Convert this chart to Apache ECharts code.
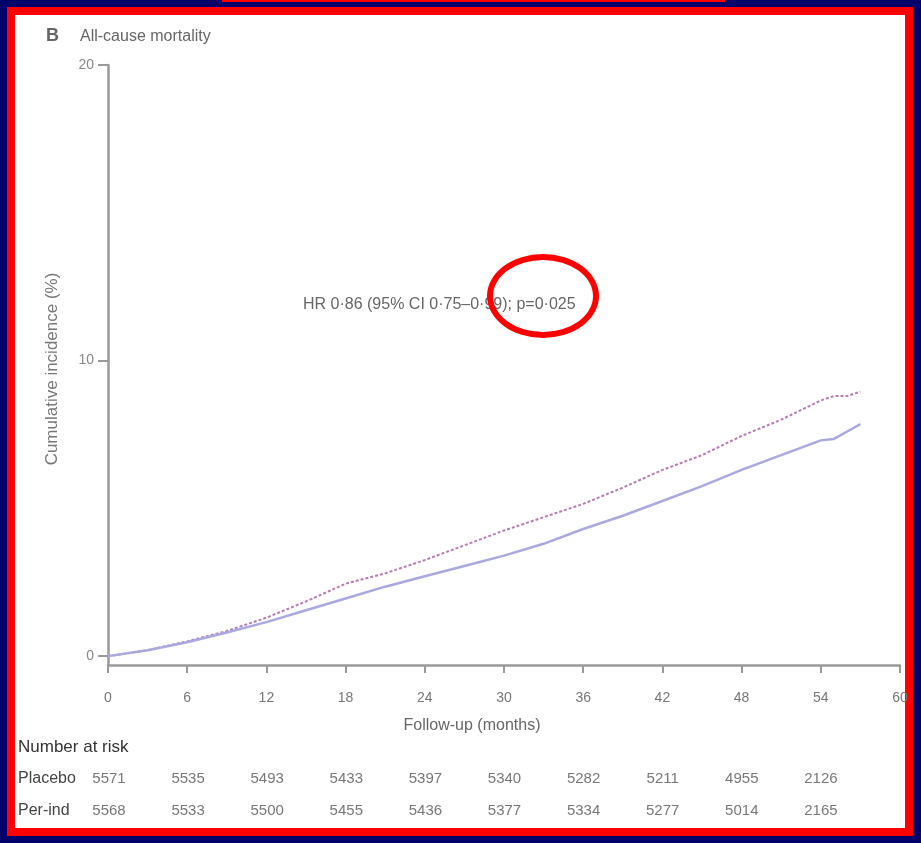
<!DOCTYPE html>
<html>
<head>
<meta charset="utf-8">
<script src="https://cdn.jsdelivr.net/npm/echarts@6/dist/echarts.min.js"></script>
<style>
  html, body { margin: 0; padding: 0; background: #00006b; }
  .frame {
    position: absolute; left: 7px; top: 7px; width: 890px; height: 813px;
    border: 8px solid #ff0000; background: #fff;
  }
  .topline { position: absolute; left: 222px; top: 0; width: 503px; height: 2px; background: #ff0000; }
  #chart { position: absolute; left: 0; top: 0; width: 921px; height: 843px; }
  .ring {
    position: absolute; left: 487px; top: 254px; width: 100px; height: 72px;
    border: 6px solid #ff0000; border-radius: 50%; pointer-events: none;
  }
</style>
</head>
<body>
<div class="topline"></div>
<div class="frame"></div>
<div id="chart"></div>
<div class="ring"></div>
<script>
// follow-up months and cumulative incidence (%)
const months = [0, 3, 6, 9, 12, 15, 18, 21, 24, 27, 30, 33, 36, 39, 42, 45, 48, 51, 54, 55, 56, 57]
const placebo = [0, 0.2, 0.5, 0.85, 1.3, 1.85, 2.45, 2.8, 3.25, 3.75, 4.25, 4.7, 5.15, 5.7, 6.3, 6.8, 7.45, 8.0, 8.65, 8.8, 8.8, 8.95]
const perind = [0, 0.2, 0.47, 0.8, 1.15, 1.55, 1.95, 2.35, 2.7, 3.05, 3.4, 3.8, 4.3, 4.75, 5.25, 5.75, 6.3, 6.8, 7.3, 7.35, 7.6, 7.85]
const yTicks = [0, 10, 20]

// number at risk
const riskMonths = [0, 6, 12, 18, 24, 30, 36, 42, 48, 54]
const riskGroups = ["Placebo", "Per-ind"]
const riskPlacebo = [5571, 5535, 5493, 5433, 5397, 5340, 5282, 5211, 4955, 2126]
const riskPerind = [5568, 5533, 5500, 5455, 5436, 5377, 5334, 5277, 5014, 2165]

const font = "Liberation Sans, sans-serif"
const axisGrey = "#9a9a9a"

const pairs = (xs, ys) => xs.map((x, i) => [x, ys[i]])
const riskSeries = (name, counts) => ({
  type: "scatter", xAxisIndex: 1, yAxisIndex: 1, silent: true,
  symbolSize: 1, itemStyle: { color: "rgba(0,0,0,0)" },
  data: riskMonths.map((m, i) => [m, name, counts[i]]),
  label: { show: true, position: "inside", formatter: p => p.value[2], color: "#555", fontSize: 15, fontFamily: font }
})

const chart = echarts.init(document.getElementById("chart"))
chart.setOption({
  backgroundColor: "transparent",
  animation: false,
  textStyle: { fontFamily: font },
  grid: [
    { left: 108, right: 21, top: 65, bottom: 178 },
    { left: 109, right: 21, top: 763, height: 64 }
  ],
  xAxis: [
    {
      gridIndex: 0, type: "value", min: 0, max: 60, interval: 6,
      axisLine: { onZero: false, lineStyle: { color: axisGrey, width: 2.5 } },
      axisTick: { length: 8, lineStyle: { color: axisGrey, width: 2 } },
      axisLabel: { color: "#777", fontSize: 14, margin: 26, fontFamily: font },
      splitLine: { show: false }
    },
    { gridIndex: 1, type: "value", min: 0, max: 60, show: false }
  ],
  yAxis: [
    {
      gridIndex: 0, type: "value", min: -0.3, max: 20,
      axisLine: { show: true, lineStyle: { color: axisGrey, width: 2.5 } },
      axisTick: { show: true, length: 10, customValues: yTicks, lineStyle: { color: axisGrey, width: 2 } },
      axisLabel: { color: "#888", fontSize: 14, margin: 14, customValues: yTicks, fontFamily: font },
      splitLine: { show: false }
    },
    {
      gridIndex: 1, type: "category", data: riskGroups, inverse: true,
      axisLine: { show: false }, axisTick: { show: false },
      axisLabel: { color: "#444", fontSize: 16, align: "left", margin: 91, fontFamily: font }
    }
  ],
  graphic: [
    { type: "text", left: 46, top: 27, style: { text: "B", fontSize: 18, fontWeight: "bold", fill: "#666", fontFamily: font } },
    { type: "text", left: 80, top: 29, style: { text: "All-cause mortality", fontSize: 16, fill: "#666", fontFamily: font } },
    { type: "text", left: 303, top: 297, style: { text: "HR 0·86 (95% CI 0·75–0·99); p=0·025", fontSize: 16, fill: "#666", fontFamily: font } },
    { type: "text", left: 18, top: 739, style: { text: "Number at risk", fontSize: 17, fill: "#333", fontFamily: font } },
    {
      type: "text", x: 52, y: 369, rotation: Math.PI / 2,
      style: { text: "Cumulative incidence (%)", fontSize: 17, fill: "#777", align: "center", verticalAlign: "middle", fontFamily: font }
    },
    {
      type: "text", x: 472, y: 726,
      style: { text: "Follow-up (months)", fontSize: 16, fill: "#666", align: "center", verticalAlign: "middle", fontFamily: font }
    }
  ],
  series: [
    {
      name: "Placebo", type: "line", xAxisIndex: 0, yAxisIndex: 0,
      data: pairs(months, placebo), showSymbol: false, silent: true,
      lineStyle: { color: "#b47fb0", width: 2, type: [3, 2] }
    },
    {
      name: "Per-ind", type: "line", xAxisIndex: 0, yAxisIndex: 0,
      data: pairs(months, perind), showSymbol: false, silent: true,
      lineStyle: { color: "#a9a9e0", width: 2.5 }
    },
    riskSeries("Placebo", riskPlacebo),
    riskSeries("Per-ind", riskPerind)
  ]
})
</script>
</body>
</html>
